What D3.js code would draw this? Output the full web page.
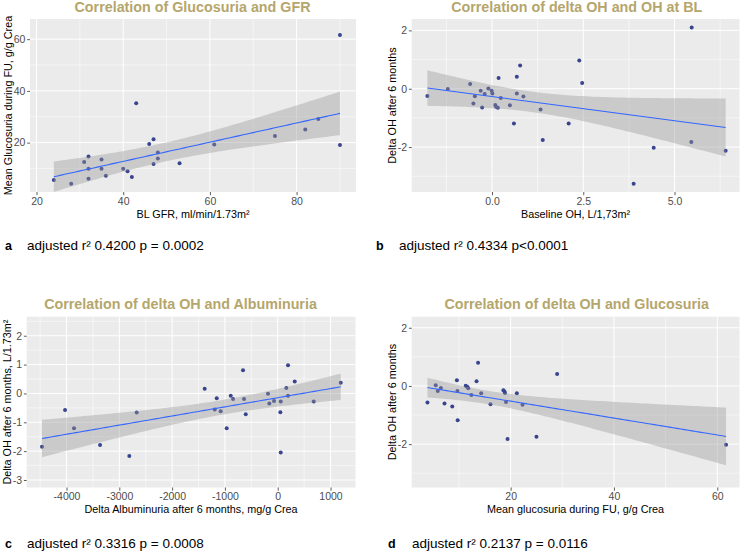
<!DOCTYPE html>
<html><head><meta charset="utf-8">
<script src="https://cdn.jsdelivr.net/npm/d3@7"></script>
<style>body{margin:0;background:#fff}svg{display:block;font-family:"Liberation Sans",Arial,sans-serif}</style>
</head><body><svg id="c" width="741" height="556"></svg>
<script>
// Panel a: BL GFR vs mean glucosuria
const gfrA   = [24,28,31,32,32,32,35,35,36,40,41,42,43,46,47,47,48,48,53,61,75,82,85,90,90];
const glucA  = [5.5,4.1,12.5,14.6,9.9,6.0,13.5,9.9,7.2,9.9,8.9,6.7,35.2,19.5,21.3,11.7,16.2,13.9,12.0,19.3,22.6,25.1,29.1,61.6,19.1];
const fitLineA = [[24,6.8],[90,31.3]];
// Panel b: baseline OH vs delta OH
const ohB    = [-1.77,-1.21,-0.60,-0.51,-0.47,-0.31,-0.27,-0.20,-0.10,-0.01,0.01,0.09,0.11,0.16,0.18,0.24,0.49,0.60,0.68,0.68,0.77,0.86,1.33,1.39,2.10,2.39,2.47,3.88,4.43,5.46,5.47,6.40];
const dohB   = [-0.25,-0.01,0.16,-0.51,-0.26,-0.07,-0.64,-0.18,0.01,-0.07,-0.16,-0.56,-0.62,-0.65,0.37,-0.32,-0.57,-1.19,0.41,-0.16,0.80,-0.27,-0.71,-1.76,-1.19,0.97,0.20,-3.26,-2.02,-1.83,2.10,-2.13];
// Panel c: delta albuminuria vs delta OH
const albC   = [-4464,-4028,-3858,-3365,-2811,-2671,-1383,-1193,-1155,-1080,-966,-890,-846,-657,-638,-606,-184,-159,-70,50,57,57,163,195,195,322,682,1193];
const dohC   = [-1.85,-0.57,-1.21,-1.79,-2.17,-0.66,0.16,-0.56,-0.17,-0.62,-1.21,-0.08,-0.19,0.80,-0.19,-0.72,-0.01,-0.35,-0.26,-0.65,-0.28,-2.05,0.19,0.98,-0.08,0.41,-0.28,0.37];
// Panel d: mean glucosuria vs delta OH
const glucD  = [3.9,5.5,5.9,6.5,7.2,8.7,9.6,9.7,9.75,11.3,11.6,11.8,12.4,13.4,13.7,14.3,16.1,18.6,18.8,18.9,19.1,19.4,21.2,22.3,25.0,29.0,61.7];
const dohD   = [-0.57,0.02,-0.17,-0.07,-0.60,-0.71,0.20,-0.17,-1.18,0.01,-0.03,-0.08,-0.31,0.16,0.80,-0.25,-0.63,-0.15,-0.19,-0.24,-0.55,-1.82,-0.25,-0.65,-1.75,0.41,-2.02];

const titles   = ["Correlation of Glucosuria and GFR","Correlation of delta OH and OH at BL","Correlation of delta OH and Albuminuria","Correlation of delta OH and Glucosuria"];
const xTitles  = ["BL GFR, ml/min/1.73m²","Baseline OH, L/1,73m²","Delta Albuminuria after 6 months, mg/g Crea","Mean glucosuria during FU, g/g Crea"];
const yTitles  = ["Mean Glucosuria during FU, g/g Crea","Delta OH after 6 months","Delta OH after 6 months, L/1.73m²","Delta OH after 6 months"];
const letters  = ["a","b","c","d"];
const stats    = ["adjusted r² 0.4200 p = 0.0002","adjusted r² 0.4334 p<0.0001","adjusted r² 0.3316 p = 0.0008","adjusted r² 0.2137 p = 0.0116"];
const xTicksA = [20,40,60,80],    yTicksA = [20,40,60];
const xTicksB = [0,2.5,5],        yTicksB = [-2,0,2];
const xTicksC = [-4000,-3000,-2000,-1000,0,1000], yTicksC = [-3,-2,-1,0,1,2];
const xTicksD = [20,40,60],       yTicksD = [-2,0,2];

const num = d => String(d);
const panels = [
 {xs:gfrA, ys:glucA, line:fitLineA, xt:xTicksA, yt:yTicksA, xf:num, yf:num,
  x0:30, x1:356, y0:19, y1:192, xd:[18.5,93.7], yd:[0.9,67.8], tx:192.5, ty:12, ytx:12, lx:5, sx:27, sy:250},
 {xs:ohB, ys:dohB, xt:xTicksB, yt:yTicksB, xf:d=>d.toFixed(1), yf:num,
  x0:411.7, x1:739.5, y0:19, y1:192, xd:[-2.2,6.78], yd:[-3.54,2.39], tx:576.7, ty:12, ytx:395.5, lx:376, sx:399, sy:250},
 {xs:albC, ys:dohC, xt:xTicksC, yt:yTicksC, xf:num, yf:num,
  x0:26.7, x1:355.5, y0:316.7, y1:487.5, xd:[-4754,1473], yd:[-3.26,2.66], tx:180.5, ty:308.5, ytx:10.5, lx:5, sx:27, sy:548},
 {xs:glucD, ys:dohD, xt:xTicksD, yt:yTicksD, xf:num, yf:num,
  x0:411.7, x1:739.5, y0:316.7, y1:487.5, xd:[0.85,64.3], yd:[-3.49,2.38], tx:576.7, ty:308.5, ytx:395.5, lx:388, sx:412, sy:548}
];

function tq(df){ const z=1.959964; return z+(z**3+z)/(4*df)+(5*z**5+16*z**3+3*z)/(96*df*df); }
function fit(xs,ys,line){
  const n=xs.length, mx=d3.mean(xs), my=d3.mean(ys);
  let sxx=0,sxy=0; xs.forEach((x,i)=>{sxx+=(x-mx)**2; sxy+=(x-mx)*(ys[i]-my);});
  let b=sxy/sxx, a=my-b*mx;
  let sse=0; xs.forEach((x,i)=>{sse+=(ys[i]-a-b*x)**2;});
  const s=Math.sqrt(sse/(n-2)), t=tq(n-2);
  if(line){ b=(line[1][1]-line[0][1])/(line[1][0]-line[0][0]); a=line[0][1]-b*line[0][0]; }
  const [lo,hi]=d3.extent(xs);
  return d3.range(80).map(k=>{const x=lo+(hi-lo)*k/79, y=a+b*x, se=s*Math.sqrt(1/n+(x-mx)**2/sxx);
    return {x,y,l:y-t*se,u:y+t*se};});
}
function minors(ticks,dom){
  const st=ticks[1]-ticks[0], out=[];
  for(let v=ticks[0]-st/2; v<=ticks[ticks.length-1]+st/2+1e-9; v+=st) if(v>=dom[0]&&v<=dom[1]) out.push(v);
  return out;
}

const svg=d3.select("#c");
const titleCol="#B5A66C", ptCol="#38448E";
panels.forEach((p,i)=>{
  const x=d3.scaleLinear().domain(p.xd).range([p.x0,p.x1]);
  const y=d3.scaleLinear().domain(p.yd).range([p.y1,p.y0]);
  const g=svg.append("g");
  g.append("rect").attr("x",p.x0).attr("y",p.y0).attr("width",p.x1-p.x0).attr("height",p.y1-p.y0).attr("fill","#EBEBEB");
  const cid="clip"+i;
  svg.append("clipPath").attr("id",cid).append("rect").attr("x",p.x0).attr("y",p.y0).attr("width",p.x1-p.x0).attr("height",p.y1-p.y0);
  minors(p.xt,p.xd).forEach(v=>g.append("line").attr("x1",x(v)).attr("x2",x(v)).attr("y1",p.y0).attr("y2",p.y1).attr("stroke","#fff").attr("stroke-width",0.5));
  minors(p.yt,p.yd).forEach(v=>g.append("line").attr("y1",y(v)).attr("y2",y(v)).attr("x1",p.x0).attr("x2",p.x1).attr("stroke","#fff").attr("stroke-width",0.5));
  p.xt.forEach(v=>g.append("line").attr("x1",x(v)).attr("x2",x(v)).attr("y1",p.y0).attr("y2",p.y1).attr("stroke","#fff").attr("stroke-width",1));
  p.yt.forEach(v=>g.append("line").attr("y1",y(v)).attr("y2",y(v)).attr("x1",p.x0).attr("x2",p.x1).attr("stroke","#fff").attr("stroke-width",1));
  const pg=g.append("g").attr("clip-path",`url(#${cid})`);
  pg.selectAll("circle").data(p.xs.map((v,k)=>[v,p.ys[k]])).join("circle")
    .attr("cx",d=>x(d[0])).attr("cy",d=>y(d[1])).attr("r",2).attr("fill",ptCol);
  const f=fit(p.xs,p.ys,p.line);
  pg.append("path").datum(f).attr("d",d3.area().x(d=>x(d.x)).y0(d=>y(d.l)).y1(d=>y(d.u)))
    .attr("fill","#999999").attr("fill-opacity",0.4);
  pg.append("path").datum(f).attr("d",d3.line().x(d=>x(d.x)).y(d=>y(d.y)))
    .attr("fill","none").attr("stroke","#3366FF").attr("stroke-width",1.1);
  const xa=g.append("g").attr("transform",`translate(0,${p.y1})`)
    .call(d3.axisBottom(x).tickValues(p.xt).tickFormat(p.xf).tickSize(3.2).tickPadding(2.3));
  const ya=g.append("g").attr("transform",`translate(${p.x0},0)`)
    .call(d3.axisLeft(y).tickValues(p.yt).tickFormat(p.yf).tickSize(2.8).tickPadding(1.8));
  [xa,ya].forEach(a=>{a.select(".domain").remove();
    a.selectAll(".tick line").attr("stroke","#333").attr("stroke-width",0.8);
    a.selectAll(".tick text").attr("fill","#4D4D4D").style("font-size","10.5px").style("font-family","Liberation Sans, Arial, sans-serif");});
  g.append("text").attr("x",p.tx).attr("y",p.ty).attr("text-anchor","middle").attr("fill",titleCol)
    .style("font-size","14.3px").style("font-weight","bold").text(titles[i]);
  g.append("text").attr("x",(p.x0+p.x1)/2).attr("y",p.y1+25.5).attr("text-anchor","middle").attr("fill","#000")
    .style("font-size","10.8px").text(xTitles[i]);
  g.append("text").attr("transform",`translate(${p.ytx},${(p.y0+p.y1)/2}) rotate(-90)`).attr("text-anchor","middle").attr("fill","#000")
    .style("font-size","10.8px").text(yTitles[i]);
  g.append("text").attr("x",p.lx).attr("y",p.sy).attr("fill","#000").style("font-size","12.5px").style("font-weight","bold").text(letters[i]);
  g.append("text").attr("x",p.sx).attr("y",p.sy).attr("fill","#000").style("font-size","13.5px").text(stats[i]);
});
</script></body></html>
